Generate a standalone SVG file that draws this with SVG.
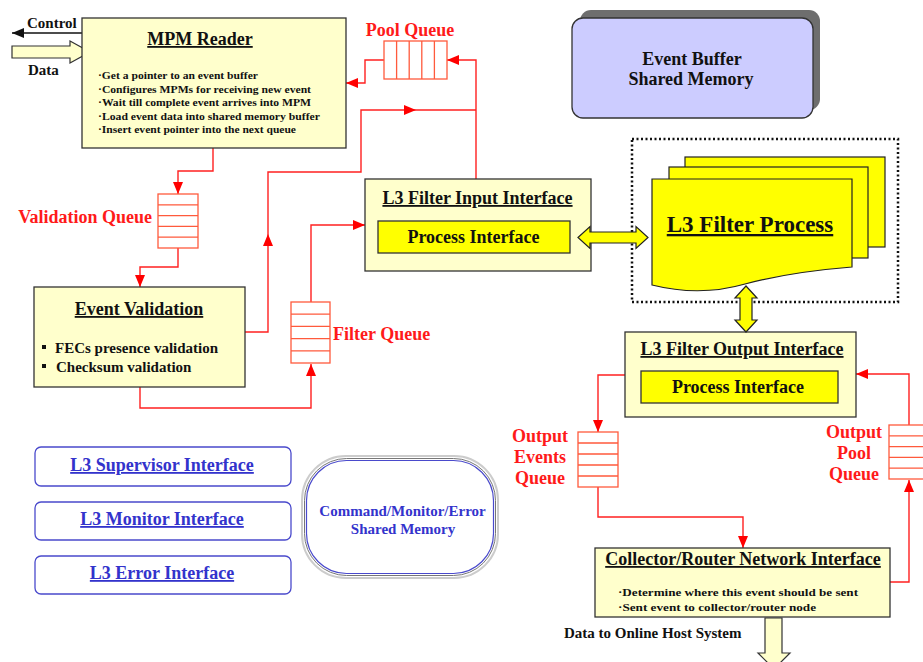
<svg xmlns="http://www.w3.org/2000/svg" width="923" height="662" viewBox="0 0 923 662">
<defs>
<style>
text{font-family:"Liberation Serif","Times New Roman",serif;font-weight:bold;fill:#111}
.t18{font-size:18px}
.t15{font-size:15px}
.sm{font-size:11px}
.mid{text-anchor:middle}
.ul{text-decoration:underline}
.red{fill:#ff1a1a}
.blue{fill:#3333cc}
.box{fill:#ffffcc;stroke:#333;stroke-width:1.3}
.pi{fill:#ffff00;stroke:#333;stroke-width:1.3}
.q{fill:#fff;stroke:#ff5a3c;stroke-width:1.3}
.ql{stroke:#ff5a3c;stroke-width:1.3;fill:none}
.c{fill:none;stroke:#ff2020;stroke-width:1.4}
.bb{fill:#fff;stroke:#4a4acc;stroke-width:1.3}
.ya{fill:#ffff00;stroke:#222;stroke-width:1.2}
</style>
<marker id="ah" viewBox="0 0 12 10" refX="12" refY="5" markerWidth="12" markerHeight="10" markerUnits="userSpaceOnUse" orient="auto">
<path d="M0,0 L12,5 L0,10 Z" fill="#ff0000"/>
</marker>
<marker id="ahk" viewBox="0 0 12 10" refX="12" refY="5" markerWidth="12" markerHeight="10" markerUnits="userSpaceOnUse" orient="auto">
<path d="M0,0 L12,5 L0,10 Z" fill="#111"/>
</marker>
</defs>
<rect width="923" height="662" fill="#fff"/>

<g id="connectors">
<path class="c" d="M213,148 V171 H178 V194" marker-end="url(#ah)"/>
<path class="c" d="M178,248 V267 H140 V287" marker-end="url(#ah)"/>
<path class="c" d="M140,387 V408 H311 V364" marker-end="url(#ah)"/>
<path class="c" d="M311,302 V225 H365" marker-end="url(#ah)"/>
<path class="c" d="M245,332 H268 V172 H361 V110 H476"/>
<path d="M268,234 L273,246 L263,246 Z" fill="#ff0000"/>
<path d="M416,110 L404,105 L404,115 Z" fill="#ff0000"/>
<path class="c" d="M476,179 V60 H447" marker-end="url(#ah)"/>
<path class="c" d="M384,60 H365 V83 H346" marker-end="url(#ah)"/>
<path class="c" d="M625,375 H598 V432" marker-end="url(#ah)"/>
<path class="c" d="M598,487 V517 H743 V548" marker-end="url(#ah)"/>
<path class="c" d="M890,582 H909 V480" marker-end="url(#ah)"/>
<path class="c" d="M909,425 V374 H856" marker-end="url(#ah)"/>
<path d="M82,33 H12" stroke="#111" stroke-width="1.5" fill="none" marker-end="url(#ahk)"/>
<polygon points="12,46 70,46 70,41 90,52 70,63 70,58 12,58" fill="#ffffcc" stroke="#333" stroke-width="1.2"/>
<polygon points="765,618 782,618 782,653 790,653 774,669 758,653 765,653" fill="#ffffcc" stroke="#333" stroke-width="1.2"/>
</g>

<g id="labels-io">
<text class="t15" x="27" y="28">Control</text>
<text class="t15" x="28" y="75">Data</text>
<text class="t15" x="564" y="638">Data to Online Host System</text>
</g>

<g id="mpm-reader">
<rect class="box" x="82" y="18" width="264" height="130"/>
<text class="t18 mid ul" x="200" y="45">MPM Reader</text>
<text class="sm" x="98" y="79" textLength="160" lengthAdjust="spacingAndGlyphs">·Get a pointer to an event buffer</text>
<text class="sm" x="98" y="92.5" textLength="213" lengthAdjust="spacingAndGlyphs">·Configures MPMs for receiving new event</text>
<text class="sm" x="98" y="106" textLength="213" lengthAdjust="spacingAndGlyphs">·Wait till complete event arrives into MPM</text>
<text class="sm" x="98" y="119.5" textLength="222" lengthAdjust="spacingAndGlyphs">·Load event data into shared memory buffer</text>
<text class="sm" x="98" y="133" textLength="198" lengthAdjust="spacingAndGlyphs">·Insert event pointer into the next queue</text>
</g>

<g id="pool-queue">
<text class="t18 mid red" x="410" y="36">Pool Queue</text>
<rect class="q" x="384" y="41" width="63" height="38"/>
<path class="ql" d="M396.6,41 V79 M409.2,41 V79 M421.8,41 V79 M434.4,41 V79"/>
</g>

<g id="validation-queue">
<text class="t18 red" x="152" y="223" text-anchor="end">Validation Queue</text>
<rect class="q" x="158" y="194" width="40" height="54"/>
<path class="ql" d="M158,204.8 H198 M158,215.6 H198 M158,226.4 H198 M158,237.2 H198"/>
</g>

<g id="event-validation">
<rect class="box" x="34" y="287" width="211" height="100"/>
<text class="t18 mid ul" x="139" y="315">Event Validation</text>
<rect x="42" y="345" width="4" height="4" fill="#111"/>
<text class="t15" x="55" y="353">FECs  presence validation</text>
<rect x="42" y="364" width="4" height="4" fill="#111"/>
<text class="t15" x="56" y="372">Checksum validation</text>
</g>

<g id="filter-queue">
<rect class="q" x="291" y="302" width="39" height="61"/>
<path class="ql" d="M291,314.2 H330 M291,326.4 H330 M291,338.6 H330 M291,350.8 H330"/>
<text class="t18 red" x="333" y="340">Filter Queue</text>
</g>

<g id="l3-filter-input">
<rect class="box" x="365" y="179" width="226" height="92"/>
<text class="t18 mid ul" x="477.5" y="204">L3 Filter Input Interface</text>
<rect class="pi" x="378" y="221" width="192" height="32"/>
<text class="t18 mid" x="473.5" y="243">Process Interface</text>
</g>

<g id="event-buffer">
<rect x="580" y="10" width="240" height="100" rx="11" fill="#6e6e6e"/>
<rect x="572" y="18" width="241" height="100" rx="11" fill="#ccccff" stroke="#333" stroke-width="1.3"/>
<text class="t18 mid" x="692" y="65">Event Buffer</text>
<text class="t18 mid" x="691" y="85">Shared Memory</text>
</g>

<g id="l3-filter-process">
<rect x="632" y="139" width="266" height="163" fill="none" stroke="#111" stroke-width="2.5" stroke-dasharray="2,2.5"/>
<rect x="685" y="157" width="200" height="90" fill="#ffff00" stroke="#222" stroke-width="1.2"/>
<rect x="669" y="167" width="199" height="91" fill="#ffff00" stroke="#222" stroke-width="1.2"/>
<path d="M652,179 H852 V267 Q790,272 745,284 Q700,297 652,285 Z" fill="#ffff00" stroke="#222" stroke-width="1.2"/>
<text class="mid ul" x="750" y="232" style="font-size:23px">L3 Filter Process</text>
</g>

<g id="l3-filter-output">
<rect class="box" x="625" y="332" width="231" height="85"/>
<text class="t18 mid ul" x="742" y="355">L3 Filter Output Interface</text>
<rect class="pi" x="641" y="371" width="197" height="32"/>
<text class="t18 mid" x="738" y="393">Process Interface</text>
</g>

<g id="output-events-queue">
<text class="t18 mid red" x="540" y="442">Output</text>
<text class="t18 mid red" x="540" y="463">Events</text>
<text class="t18 mid red" x="540" y="484">Queue</text>
<rect class="q" x="578" y="432" width="40" height="55"/>
<path class="ql" d="M578,443 H618 M578,454 H618 M578,465 H618 M578,476 H618"/>
</g>

<g id="output-pool-queue">
<text class="t18 mid red" x="854" y="438">Output</text>
<text class="t18 mid red" x="854" y="459">Pool</text>
<text class="t18 mid red" x="854" y="480">Queue</text>
<rect class="q" x="889" y="425" width="40" height="54"/>
<path class="ql" d="M889,435.8 H929 M889,446.6 H929 M889,457.4 H929 M889,468.2 H929"/>
</g>

<g id="collector-router">
<rect class="box" x="595" y="548" width="295" height="69"/>
<text class="t18 mid ul" x="743" y="565">Collector/Router Network Interface</text>
<text class="sm" x="618" y="596" textLength="240" lengthAdjust="spacingAndGlyphs">·Determine where this event should be sent</text>
<text class="sm" x="618" y="611" textLength="198" lengthAdjust="spacingAndGlyphs">·Sent event to collector/router node</text>
</g>

<g id="l3-supervisor">
<rect class="bb" x="35" y="447" width="256" height="39" rx="6"/>
<text class="t18 mid ul blue" x="162" y="471">L3 Supervisor Interface</text>
</g>
<g id="l3-monitor">
<rect class="bb" x="35" y="502" width="256" height="38" rx="6"/>
<text class="t18 mid ul blue" x="162" y="525">L3 Monitor Interface</text>
</g>
<g id="l3-error">
<rect class="bb" x="35" y="556" width="256" height="38" rx="6"/>
<text class="t18 mid ul blue" x="162" y="579">L3 Error Interface</text>
</g>

<g id="cme-shared-memory">
<rect x="302" y="456" width="196" height="122" rx="44" fill="#fff" stroke="#cccccc" stroke-width="2"/>
<rect x="304.5" y="458.5" width="191" height="117" rx="42" fill="none" stroke="#777" stroke-width="1"/>
<rect x="306.5" y="460.5" width="187" height="113" rx="40" fill="none" stroke="#4a4acc" stroke-width="1.2"/>
<text class="t15 mid blue" x="402.5" y="516">Command/Monitor/Error</text>
<text class="t15 mid blue" x="403" y="534">Shared Memory</text>
</g>

<g id="process-links">
<polygon class="ya" points="578,237.5 590,226.5 590,232 636,232 636,226.5 648,237.5 636,248.5 636,243 590,243 590,248.5"/>
<polygon class="ya" points="746,286 757,298 752,298 752,320 757,320 746,332 735,320 740,320 740,298 735,298"/>
</g>
</svg>
